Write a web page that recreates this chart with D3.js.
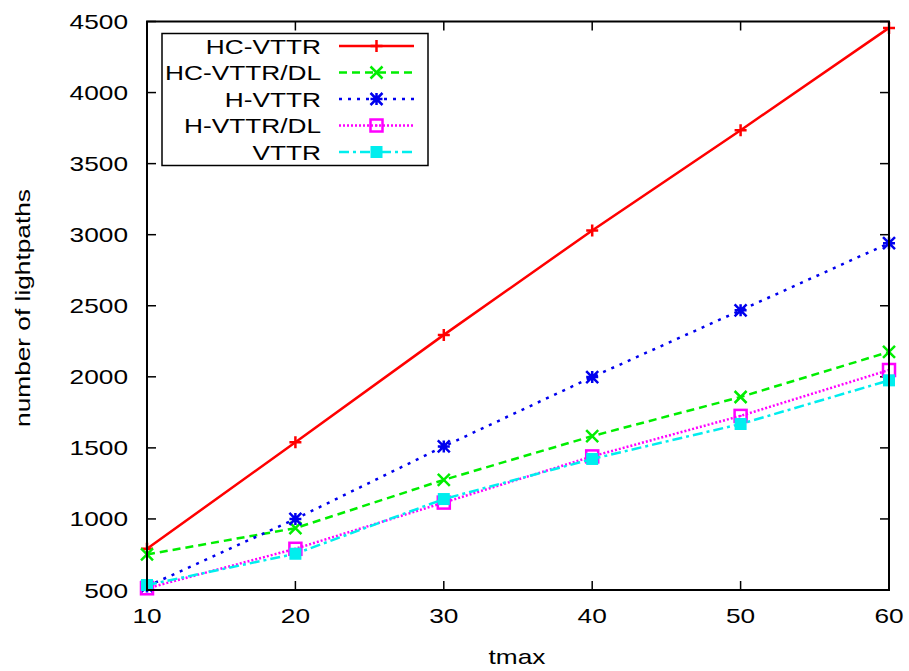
<!DOCTYPE html>
<html>
<head>
<meta charset="utf-8">
<script src="https://cdn.jsdelivr.net/npm/d3@7"></script>
<style>
  html, body { margin: 0; padding: 0; background: #fff; }
  svg { display: block; font-family: "Liberation Sans", Arial, sans-serif; }
</style>
</head>
<body>
<svg id="chart" width="909" height="671"></svg>
<script>
// Number of lightpaths vs. tmax for each heuristic
const tmax = [10, 20, 30, 40, 50, 60];
const hcVttr   = [790, 1540, 2295, 3030, 3735, 4455];
const hcVttrDl = [750, 935, 1275, 1583, 1858, 2175];
const hVttr    = [525, 1000, 1510, 1998, 2468, 2940];
const hVttrDl  = [512, 790, 1115, 1440, 1725, 2048];
const vttr     = [535, 755, 1140, 1422, 1668, 1975];
const seriesNames = ["HC-VTTR", "HC-VTTR/DL", "H-VTTR", "H-VTTR/DL", "VTTR"];
const xTicks = [10, 20, 30, 40, 50, 60];
const yTicks = [500, 1000, 1500, 2000, 2500, 3000, 3500, 4000, 4500];

const styles = [
  { color: "#ff0000", dash: null,          marker: "plus" },
  { color: "#00ee00", dash: "8,5",         marker: "cross" },
  { color: "#0000ee", dash: "3,6",         marker: "star" },
  { color: "#ff00ff", dash: "2,2",         marker: "openSquare" },
  { color: "#00eeee", dash: "10,4,3,4",    marker: "filledSquare" }
];
const seriesValues = [hcVttr, hcVttrDl, hVttr, hVttrDl, vttr];

const FONT = 21;
const STRETCH = 1.25;   // wide glyphs, as in the original terminal output

const svg = d3.select("#chart");
const m = { left: 147, right: 889, top: 21.5, bottom: 590 };
const x = d3.scaleLinear().domain([10, 60]).range([m.left, m.right]);
const y = d3.scaleLinear().domain([500, 4500]).range([m.bottom, m.top]);

function label(parent, tx, ty, str, anchor, rotate) {
  return parent.append("text")
    .attr("transform", `translate(${tx},${ty})${rotate ? " rotate(" + rotate + ")" : ""} scale(${STRETCH},1)`)
    .attr("text-anchor", anchor).attr("font-size", FONT).attr("fill", "#000").text(str);
}

// Tick marks (drawn inward on all four sides)
const tickLen = 9;
const axes = svg.append("g").attr("stroke", "#000").attr("stroke-width", 1.5);
yTicks.forEach(t => {
  axes.append("line").attr("x1", m.left).attr("x2", m.left + tickLen).attr("y1", y(t)).attr("y2", y(t));
  axes.append("line").attr("x1", m.right).attr("x2", m.right - tickLen).attr("y1", y(t)).attr("y2", y(t));
});
xTicks.forEach(t => {
  axes.append("line").attr("y1", m.bottom).attr("y2", m.bottom - tickLen).attr("x1", x(t)).attr("x2", x(t));
  axes.append("line").attr("y1", m.top).attr("y2", m.top + tickLen).attr("x1", x(t)).attr("x2", x(t));
});

// Tick labels
const tl = svg.append("g");
yTicks.forEach(t => label(tl, m.left - 19, y(t) + 7.5, t, "end"));
xTicks.forEach(t => label(tl, x(t), m.bottom + 33, t, "middle"));

// Axis titles
label(svg, 517, 664, "tmax", "middle");
label(svg, 30, 308, "number of lightpaths", "middle", -90);

// Marker drawing
function drawMarker(g, type, cx, cy, color) {
  const s = 6;
  if (type === "plus") {
    g.append("path").attr("d", `M${cx - s},${cy}H${cx + s}M${cx},${cy - s}V${cy + s}`)
      .attr("stroke", color).attr("stroke-width", 2.5).attr("fill", "none");
  } else if (type === "cross") {
    g.append("path").attr("d", `M${cx - s},${cy - s}L${cx + s},${cy + s}M${cx - s},${cy + s}L${cx + s},${cy - s}`)
      .attr("stroke", color).attr("stroke-width", 2.5).attr("fill", "none");
  } else if (type === "star") {
    g.append("path").attr("d",
      `M${cx - s},${cy - s}L${cx + s},${cy + s}M${cx - s},${cy + s}L${cx + s},${cy - s}M${cx - s},${cy}H${cx + s}M${cx},${cy - s}V${cy + s}`)
      .attr("stroke", color).attr("stroke-width", 2.5).attr("fill", "none");
  } else if (type === "openSquare") {
    g.append("rect").attr("x", cx - s).attr("y", cy - s).attr("width", 2 * s).attr("height", 2 * s)
      .attr("stroke", color).attr("stroke-width", 2.5).attr("fill", "none");
    g.append("rect").attr("x", cx - 1).attr("y", cy - 1).attr("width", 2).attr("height", 2).attr("fill", color);
  } else if (type === "filledSquare") {
    g.append("rect").attr("x", cx - s).attr("y", cy - s).attr("width", 2 * s).attr("height", 2 * s)
      .attr("fill", color);
  }
}

// Series lines and markers
const line = d3.line().x((d, i) => x(tmax[i])).y(d => y(d));
seriesValues.forEach((vals, k) => {
  const st = styles[k];
  const g = svg.append("g");
  g.append("path").attr("d", line(vals)).attr("fill", "none")
    .attr("stroke", st.color).attr("stroke-width", 2.5)
    .attr("stroke-dasharray", st.dash);
  vals.forEach((v, i) => drawMarker(g, st.marker, x(tmax[i]), y(v), st.color));
});

// Frame
svg.append("rect").attr("x", m.left).attr("y", m.top)
  .attr("width", m.right - m.left).attr("height", m.bottom - m.top)
  .attr("fill", "none").attr("stroke", "#000").attr("stroke-width", 2);

// Legend
const lg = svg.append("g");
lg.append("rect").attr("x", 162).attr("y", 33.5).attr("width", 266).attr("height", 132)
  .attr("fill", "#fff").attr("stroke", "#000").attr("stroke-width", 1.5);
seriesNames.forEach((name, k) => {
  const st = styles[k];
  const ly = 46 + k * 26.5;
  label(lg, 321, ly + 7.5, name, "end");
  lg.append("line").attr("x1", 339).attr("x2", 414).attr("y1", ly).attr("y2", ly)
    .attr("stroke", st.color).attr("stroke-width", 2.5).attr("stroke-dasharray", st.dash);
  drawMarker(lg, st.marker, 376.5, ly, st.color);
});
</script>
</body>
</html>
